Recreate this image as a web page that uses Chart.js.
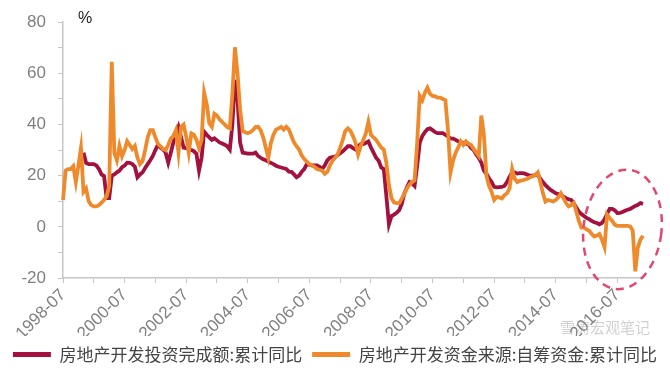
<!DOCTYPE html>
<html>
<head>
<meta charset="utf-8">
<title>房地产开发投资与自筹资金</title>
<style>
body{margin:0;background:#fff;}
#c{display:block;}
</style>
</head>
<body>
<script src="https://cdn.jsdelivr.net/npm/chart.js@4.4.1/dist/chart.umd.min.js"></script>
<canvas id="c" width="670" height="373"></canvas>
<script>
// monthly, starting 1998-07
var startYear = 1998, startMonth = 7, monthCount = 227;
var xTickLabels = ['1998-07','2000-07','2002-07','2004-07','2006-07','2008-07','2010-07','2012-07','2014-07','2016-07'];
var yTicks = [-20, 0, 20, 40, 60, 80];
var seriesNames = ['房地产开发投资完成额:累计同比', '房地产开发资金来源:自筹资金:累计同比'];

// 房地产开发投资完成额:累计同比
var invest = [
  null,null,null,null,null,null,null,null,29,25,24.5,24.5,
  24.5,24,22.6,20.5,19.8,11.2,11.2,20,20.5,21.3,22,23.3,
  24,25.1,25,24.5,23.5,19.4,20.5,21.3,23,24.5,26,27.7,
  30,32.1,31,30.3,29,25.1,29,33,36,39,35,31,
  30.8,30.5,30,29.6,28.5,22,27,37.2,36,35,34,34.6,
  33.8,33,32.6,32.1,31.5,30.2,40,57.5,50,33,29,28.8,
  28.6,28.6,28.6,29,27.7,27,26.4,26,25.5,25,24.5,23.9,
  23.5,23.2,22.9,22.6,21.6,21.5,20.5,19.4,20,21.5,22.6,24.5,
  24.3,24,24,24,23.5,22.6,24,26,27,27.3,27.5,28,
  28.8,29.5,30.5,31.5,31.5,30.8,30.2,31.5,32.3,32.3,32.8,33.4,
  31,29,27,25.8,23.2,22.6,12,1,4.2,4.8,5.5,6.5,
  9,13,15.5,17.5,17,16,23.9,32.8,35.5,37,38.2,38.5,
  37.8,37,36.6,36.6,36.6,36,35.3,34.6,34.5,34,33.4,33,
  32.8,32.5,32.3,30.8,30,28.3,27,25.1,22,20.7,19,17.5,
  15.6,15.4,15.5,15.6,16,17.5,19.5,21.3,21.3,20.8,21,21,
  20.8,20.4,20,20,20.2,20.5,18.8,17.5,16.3,15.3,14.4,13.8,
  13.1,12.8,12.5,11.8,11.2,10.8,10.5,9.3,7.5,6,5,4.2,
  3.5,3,2.3,1.8,1.5,1,1.5,2.9,5,7,7,6.5,
  5.4,5.5,5.8,6.3,6.7,7,7.6,8.2,8.6,9.3,9
];

// 房地产开发资金来源:自筹资金:累计同比
var selfFunds = [
  10.5,22,22.6,22.6,23.7,17.5,24,30.8,13.7,15,10,8.5,
  8,8,8.5,9.5,10.5,12,16,64.5,29,26,31.6,27.6,
  30,33.5,32,30.4,31.6,27,24.5,25.7,30,35,37.8,37.8,
  35,32.4,31.5,30.5,30,32,34.5,35.5,37.8,29,39.1,40,
  35.3,29,36.5,36,34,30.8,34,52.4,48,40.5,39.1,44.2,
  43.5,42,41,40,39,38.5,52,70.2,60,46,37.5,37,
  36.6,37,37.8,39,39.1,37.8,35,31,27,32.8,36,38,
  38.5,39.1,38,39.1,38,35.5,33,31.5,30.2,28,26.5,25.5,
  24.5,24,23.5,22.6,22.3,22,20.7,21.5,24,25.8,27,28.3,
  31,34,37.5,38.5,37.5,35.5,32.8,28.3,31.5,34,36.5,41,
  36,35,34,32.5,31,30.2,25,16.3,11.2,9.5,9.3,9.3,
  11,13,15,16.5,17.5,18.2,32.8,51.2,49.5,52.4,54.4,52,
  51.2,51,50.5,50.5,50,49.5,37.8,21.3,26,29,31,33.4,
  32,33.4,32.5,32,30.5,29,27.7,43.5,36,20,16,13.7,
  10.5,11.7,11.5,11.1,12.4,13.1,15,22.6,18.8,17.5,18,18.2,
  18.5,18.8,19.4,19.8,20.3,21.3,17.5,13.1,9.9,10.5,10.2,9.9,
  10.5,11.5,13.1,11.2,9.3,8,8.5,9.3,6.1,2.3,-0.3,-0.3,
  -1,-1.5,-2.8,-3.8,-3.4,-2.8,-5,-7.9,4.8,3.5,2.3,0.8,
  0.4,0.4,0.4,0.4,0.4,0.2,-1.5,-17.4,-8,-5,-3.5
];

var months = [];
for (var i = 0; i < monthCount; i++) {
  var m = startMonth - 1 + i;
  var y = startYear + Math.floor(m / 12);
  var mm = (m % 12) + 1;
  months.push(y + '-' + (mm < 10 ? '0' + mm : mm));
}

var RED = '#A3123F', ORANGE = '#EF8A2C', AXIS = '#c6c6c6', TICKTXT = '#808080';
var latin = "'Liberation Sans', Arial, sans-serif";
var cjk = "'Noto Sans CJK SC', 'Liberation Sans', sans-serif";

// "%" unit, watermark and the dashed circle round the latest months
var extras = {
  id: 'extras',
  afterDraw: function(chart) {
    var ctx = chart.ctx, xs = chart.scales.x, ys = chart.scales.y;
    ctx.save();
    ctx.fillStyle = '#222';
    ctx.font = '16px ' + latin;
    ctx.textBaseline = 'alphabetic';
    ctx.fillText('%', 78, 23);

    ctx.fillStyle = 'rgba(150,150,150,0.45)';
    ctx.font = '15px ' + cjk;
    ctx.fillText('雪涛宏观笔记', 560, 333);

    var cx = xs.getPixelForValue(218), cy = ys.getPixelForValue(-1);
    ctx.strokeStyle = '#E2476E';
    ctx.lineWidth = 2.5;
    ctx.setLineDash([8, 6]);
    ctx.beginPath();
    ctx.ellipse(cx, cy, 39, 60, 0.12, 0, Math.PI * 2);
    ctx.stroke();
    ctx.restore();
  }
};

new Chart(document.getElementById('c'), {
  type: 'line',
  data: {
    labels: months,
    datasets: [
      {label: seriesNames[0], data: invest, borderColor: RED, backgroundColor: RED,
       borderWidth: 3.8, pointRadius: 0, tension: 0, spanGaps: false, order: 1},
      {label: seriesNames[1], data: selfFunds, borderColor: ORANGE, backgroundColor: ORANGE,
       borderWidth: 3.8, pointRadius: 0, tension: 0, order: 0}
    ]
  },
  options: {
    responsive: false,
    animation: false,
    // top label half-height is added on top of this
    layout: {padding: {left: 0, right: 0, top: 6, bottom: 0}},
    scales: {
      x: {
        type: 'category',
        afterFit: function(s) { s.height = 58; },
        afterBuildTicks: function(s) {
          s.ticks = s.ticks.filter(function(t) { return t.value % 12 === 0; });
        },
        grid: {display: true, drawOnChartArea: false, drawTicks: true, tickLength: 5, color: AXIS},
        border: {color: AXIS, width: 1.5},
        ticks: {
          autoSkip: false, minRotation: 45, maxRotation: 45, padding: 2,
          color: TICKTXT, font: {family: latin, size: 17},
          callback: function(v) {
            var l = this.getLabelForValue(v);
            return xTickLabels.indexOf(l) >= 0 ? l : '';
          }
        }
      },
      y: {
        min: yTicks[0], max: yTicks[yTicks.length - 1],
        afterFit: function(s) { s.width = 63; },
        grid: {display: true, drawOnChartArea: false, drawTicks: true, tickLength: 5, color: AXIS},
        border: {color: AXIS, width: 1.5},
        ticks: {
          stepSize: 10, padding: 12, color: TICKTXT, font: {family: latin, size: 17},
          callback: function(v) { return yTicks.indexOf(v) >= 0 ? v : ''; }
        }
      },
      // empty right-hand strip so the plot stops short of the edge
      yRight: {
        position: 'right', display: true,
        afterFit: function(s) { s.width = 27; },
        grid: {display: false}, border: {display: false}, ticks: {display: false}
      }
    },
    plugins: {
      tooltip: {enabled: false},
      legend: {
        position: 'bottom',
        labels: {
          boxWidth: 38, boxHeight: 5, padding: 10,
          color: '#444', font: {family: cjk, size: 17},
          generateLabels: function(chart) {
            var items = Chart.defaults.plugins.legend.labels.generateLabels(chart);
            items.forEach(function(it) { it.lineWidth = 0; it.fillStyle = it.strokeStyle; });
            return items.sort(function(a, b) { return a.datasetIndex - b.datasetIndex; });
          }
        }
      }
    }
  },
  plugins: [extras]
});
</script>
</body>
</html>
